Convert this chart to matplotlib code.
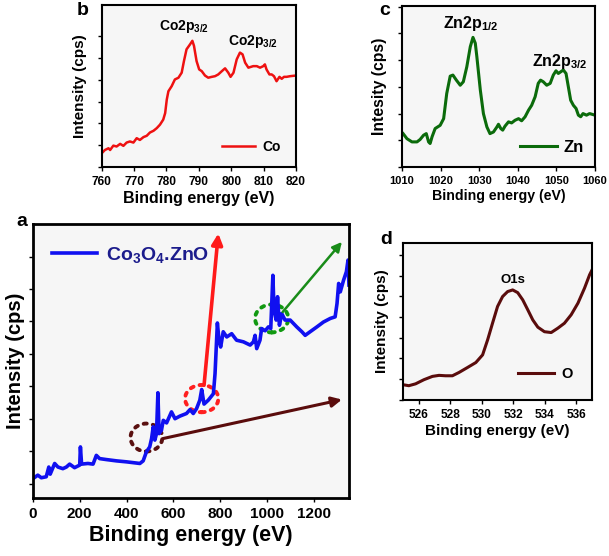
import matplotlib
matplotlib.use("Agg")
import matplotlib.pyplot as plt
from matplotlib.patches import Ellipse

plt.rcParams['font.family'] = ['Liberation Sans', 'DejaVu Sans']
plt.rcParams['font.weight'] = 'bold'
plt.rcParams['mathtext.fontset'] = 'custom'
plt.rcParams['mathtext.default'] = 'bf'
plt.rcParams['mathtext.bf'] = 'Liberation Sans:bold'
plt.rcParams['mathtext.rm'] = 'Liberation Sans:bold'

# ---- panel a : survey spectrum Co3O4.ZnO ----
survey_ev = [0, 21, 36, 57, 68, 74, 93, 107, 128, 143, 157, 178, 200, 203, 208,
             235, 257, 271, 285, 314, 357, 400, 457, 471, 485, 499, 507, 514,
             521, 528, 534, 539, 549, 557, 571, 592, 607, 628, 656, 671, 685,
             699, 713, 721, 731, 749, 771, 778, 782, 788, 795, 802, 813, 828,
             849, 870, 899, 928, 942, 949, 956, 970, 977, 992, 1006, 1016,
             1025, 1030, 1039, 1045, 1053, 1063, 1077, 1099, 1127, 1149, 1163,
             1184, 1213, 1241, 1270, 1291, 1299, 1306, 1313, 1327, 1339, 1346,
             1350]
survey_int = [1.15, 1.26, 1.18, 1.21, 1.51, 1.29, 1.62, 1.51, 1.46, 1.51, 1.60,
              1.49, 1.57, 2.13, 1.60, 1.62, 1.60, 1.87, 1.77, 1.74, 1.70, 1.67,
              1.62, 1.70, 1.98, 2.13, 2.39, 2.75, 2.34, 2.54, 3.80, 2.54, 2.64,
              2.95, 2.87, 3.21, 3.00, 3.08, 3.16, 3.28, 3.16, 3.31, 3.57, 3.90,
              3.45, 3.57, 3.77, 4.39, 5.01, 5.95, 5.42, 5.21, 5.68, 5.52, 5.62,
              5.42, 5.37, 5.27, 5.37, 5.57, 5.16, 5.42, 5.78, 5.71, 5.83, 5.78,
              7.42, 6.34, 6.04, 6.76, 5.88, 6.24, 6.04, 6.04, 5.83, 5.68, 5.57,
              5.68, 5.83, 5.98, 6.09, 6.14, 6.55, 7.17, 6.91, 7.27, 7.53, 7.89,
              7.12]

# ---- panel b : Co 2p ----
co_ev = [760.0, 761.0, 762.1, 762.6, 763.6, 764.6, 765.7, 766.7, 767.7, 768.7,
         769.8, 770.8, 771.8, 772.9, 773.9, 774.9, 776.0, 777.0, 778.0, 779.0,
         779.6, 780.1, 780.6, 781.6, 782.6, 783.7, 784.7, 785.4, 786.2, 787.3,
         788.0, 788.5, 789.3, 790.1, 790.9, 791.9, 792.9, 794.0, 795.0, 796.0,
         797.1, 798.1, 799.1, 799.8, 800.7, 801.7, 802.7, 803.5, 804.3, 805.3,
         806.8, 807.9, 808.9, 809.9, 810.4, 810.9, 811.8, 812.5, 813.2, 814.0,
         814.9, 815.6, 816.3, 817.1, 818.2, 820.0]
co_int = [0.63, 0.78, 0.86, 0.78, 0.98, 0.94, 1.06, 0.97, 1.12, 1.17, 1.12,
          1.32, 1.24, 1.37, 1.43, 1.58, 1.66, 1.78, 1.94, 2.17, 2.47, 3.09,
          3.47, 3.70, 4.01, 4.09, 4.32, 4.85, 5.39, 5.62, 5.78, 5.55, 4.85,
          4.47, 4.39, 4.19, 4.09, 4.13, 4.16, 4.24, 4.39, 4.52, 4.32, 4.13,
          4.32, 4.93, 5.24, 5.16, 4.78, 4.55, 4.62, 4.62, 4.55, 4.62, 4.70,
          4.47, 4.24, 4.24, 4.16, 3.93, 4.13, 4.04, 4.13, 4.13, 4.16, 4.19]

# ---- panel c : Zn 2p ----
zn_ev = [1010.3, 1011.3, 1012.6, 1013.9, 1014.7, 1015.6, 1016.3, 1016.9,
         1017.3, 1017.8, 1018.6, 1019.9, 1020.8, 1021.6, 1022.5, 1023.2,
         1024.1, 1025.1, 1025.9, 1026.8, 1027.7, 1028.4, 1029.0, 1029.4,
         1030.3, 1031.1, 1032.0, 1032.8, 1033.7, 1034.6, 1035.0, 1035.6,
         1036.1, 1036.7, 1037.6, 1038.4, 1039.3, 1040.2, 1041.0, 1041.9,
         1042.8, 1043.6, 1044.5, 1045.3, 1045.9, 1046.6, 1047.5, 1048.4,
         1049.2, 1049.9, 1050.5, 1051.1, 1051.8, 1052.5, 1053.1, 1053.7,
         1054.4, 1055.1, 1055.7, 1056.3, 1056.9, 1057.8, 1058.6, 1060.0]
zn_int = [1.25, 1.06, 0.94, 0.94, 1.03, 1.19, 1.25, 0.94, 0.88, 1.13, 1.44,
          1.56, 1.81, 2.75, 3.40, 3.44, 3.25, 3.06, 3.19, 3.75, 4.50, 4.85,
          4.63, 4.13, 2.88, 2.00, 1.50, 1.25, 1.31, 1.50, 1.60, 1.44, 1.38,
          1.53, 1.69, 1.65, 1.75, 1.81, 1.73, 1.88, 2.13, 2.31, 2.63, 3.13,
          3.25, 3.19, 3.06, 3.13, 3.44, 3.60, 3.50, 3.56, 3.63, 3.50, 3.00,
          2.50, 2.31, 2.19, 1.94, 1.88, 2.00, 1.94, 2.00, 1.94]

# ---- panel d : O 1s ----
o_ev = [525.05, 525.36, 525.79, 526.32, 526.86, 527.28, 527.70, 528.13, 528.55,
        529.09, 529.62, 530.05, 530.37, 530.68, 531.00, 531.32, 531.64, 531.96,
        532.28, 532.60, 532.92, 533.24, 533.56, 533.98, 534.41, 534.83, 535.25,
        535.68, 536.11, 536.53, 536.85, 537.06]
o_int = [0.72, 0.68, 0.77, 0.97, 1.13, 1.18, 1.16, 1.16, 1.32, 1.56, 1.80, 2.17,
         2.90, 3.70, 4.51, 4.99, 5.23, 5.31, 5.18, 4.83, 4.35, 3.86, 3.51, 3.29,
         3.25, 3.46, 3.70, 4.11, 4.67, 5.40, 6.04, 6.36]

bg = '#f6f6f6'
fig = plt.figure(figsize=(6.09, 5.56), dpi=100)


def style(ax, spw, tsize):
    ax.set_facecolor(bg)
    for s in ax.spines.values():
        s.set_linewidth(spw)
    ax.tick_params(direction='out', length=3, width=1, labelsize=tsize)
    ax.set_yticklabels([])
    for lab in ax.get_xticklabels():
        lab.set_fontweight('bold')


# panel b
axb = fig.add_axes([0.167, 0.6996, 0.319, 0.2914])
axb.plot(co_ev, co_int, color='#ee1111', lw=1.8, label='Co')
axb.set_xlim(760, 820)
axb.set_ylim(0, 7.42)
axb.set_xticks([760, 770, 780, 790, 800, 810, 820])
axb.set_yticks(range(0, 7))
style(axb, 1.5, 8.6)
axb.set_xlabel('Binding energy (eV)', fontsize=11.5, fontweight='bold', labelpad=2)
axb.set_ylabel('Intensity (cps)', fontsize=11, fontweight='bold', labelpad=4)
axb.text(785.3, 6.45, r'Co2p$_{3/2}$', fontsize=10, ha='center', va='center')
axb.text(806.6, 5.76, r'Co2p$_{3/2}$', fontsize=10, ha='center', va='center')
axb.legend(loc='center left', bbox_to_anchor=(0.619, 0.123), frameon=False,
           borderpad=0, borderaxespad=0, handlelength=2.4, handletextpad=0.5,
           prop={'size': 10, 'weight': 'bold'})

# panel c
axc = fig.add_axes([0.660, 0.6996, 0.317, 0.2894])
axc.plot(zn_ev, zn_int, color='#0b6b0b', lw=2.2, label='Zn')
axc.set_xlim(1010, 1060)
axc.set_ylim(0, 6.02)
axc.set_xticks([1010, 1020, 1030, 1040, 1050, 1060])
axc.set_yticks(range(0, 7))
style(axc, 1.5, 8)
axc.set_xlabel('Binding energy (eV)', fontsize=10.2, fontweight='bold', labelpad=2)
axc.set_ylabel('Intesity (cps)', fontsize=11.3, fontweight='bold', labelpad=4)
axc.text(1027.9, 5.38, r'Zn2p$_{1/2}$', fontsize=11.5, ha='center', va='center')
axc.text(1050.9, 3.94, r'Zn2p$_{3/2}$', fontsize=11.5, ha='center', va='center')
axc.legend(loc='center left', bbox_to_anchor=(0.611, 0.124), frameon=False,
           borderpad=0, borderaxespad=0, handlelength=2.2, handletextpad=0.4,
           prop={'size': 12, 'weight': 'bold'})

# panel a
axa = fig.add_axes([0.054, 0.104, 0.519, 0.493])
axa.plot(survey_ev, survey_int, color='#1010f0', lw=2.6,
         label=r'Co$_3$O$_4$.ZnO')
axa.set_xlim(0, 1350)
axa.set_ylim(0.55, 9.0)
axa.set_xticks([0, 200, 400, 600, 800, 1000, 1200])
axa.set_yticks(range(1, 9))
style(axa, 2.0, 11)
axa.set_xlabel('Binding energy (eV)', fontsize=15.5, fontweight='bold', labelpad=3)
axa.set_ylabel('Intensity (cps)', fontsize=14.5, fontweight='bold')
axa.yaxis.set_label_coords(-0.025, 0.5)
leg = axa.legend(loc='center left', bbox_to_anchor=(0.060, 0.887), frameon=False,
                 borderpad=0, borderaxespad=0, handlelength=2.3, handletextpad=0.5,
                 prop={'size': 14, 'weight': 'bold'})
for t in leg.get_texts():
    t.set_color('#1c1c8c')

dots = (0, (0.8, 1.6))
axa.add_patch(Ellipse((721, 3.62), 142, 0.84, fill=False, ec='#ff2020', lw=2.8,
                      ls=dots, capstyle='round'))
axa.add_patch(Ellipse((1020, 6.09), 142, 0.86, fill=False, ec='#119911', lw=2.8,
                      ls=dots, capstyle='round'))
axa.add_patch(Ellipse((485, 2.42), 136, 0.86, fill=False, ec='#5a1010', lw=2.8,
                      ls=dots, capstyle='round'))
axa.annotate('', xy=(792, 8.71), xytext=(731, 4.03),
             arrowprops=dict(arrowstyle='-|>', color='#ff1a1a', lw=2.6,
                             mutation_scale=16, shrinkA=0, shrinkB=0))
axa.annotate('', xy=(1320, 8.45), xytext=(1067, 6.29),
             arrowprops=dict(arrowstyle='-|>', color='#198c19', lw=1.8,
                             mutation_scale=14, shrinkA=0, shrinkB=0))
axa.annotate('', xy=(1320, 3.59), xytext=(557, 2.39),
             arrowprops=dict(arrowstyle='-|>', color='#5a0c0c', lw=2.2,
                             mutation_scale=15, shrinkA=0, shrinkB=0))

# panel d
axd = fig.add_axes([0.662, 0.281, 0.310, 0.282])
axd.plot(o_ev, o_int, color='#5a0c0c', lw=2.2, label='O')
axd.set_xlim(525, 537)
axd.set_ylim(0, 7.58)
axd.set_xticks([526, 528, 530, 532, 534, 536])
axd.set_yticks(range(0, 8))
style(axd, 1.5, 8.6)
axd.set_xlabel('Binding energy (eV)', fontsize=11, fontweight='bold', labelpad=2)
axd.set_ylabel('Intensity (cps)', fontsize=11, fontweight='bold', labelpad=4)
axd.text(532.0, 5.8, 'O1s', fontsize=9.5, ha='center', va='center')
axd.legend(loc='center left', bbox_to_anchor=(0.608, 0.166), frameon=False,
           borderpad=0, borderaxespad=0, handlelength=2.5, handletextpad=0.5,
           prop={'size': 10.5, 'weight': 'bold'})

# panel letters
fig.text(0.135, 0.982, 'b', fontsize=14, fontweight='bold', ha='center', va='center')
fig.text(0.632, 0.982, 'c', fontsize=14, fontweight='bold', ha='center', va='center')
fig.text(0.036, 0.601, 'a', fontsize=14, fontweight='bold', ha='center', va='center')
fig.text(0.634, 0.570, 'd', fontsize=14, fontweight='bold', ha='center', va='center')

fig.savefig('out.png', dpi=100)
